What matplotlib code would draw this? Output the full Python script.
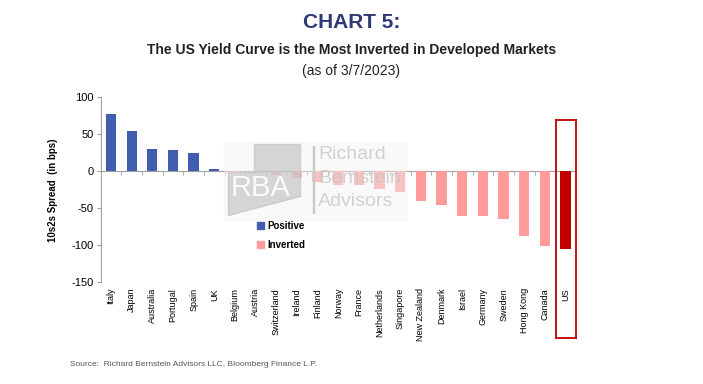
import numpy as np
import matplotlib
matplotlib.use("Agg")
import matplotlib.pyplot as plt
from matplotlib.patches import Rectangle, Polygon

# data (10s2s spread, bps)
countries = ["Italy", "Japan", "Australia", "Portugal", "Spain", "UK", "Belgium",
             "Austria", "Switzerland", "Ireland", "Finland", "Norway", "France",
             "Netherlands", "Singapore", "New Zealand", "Denmark", "Israel",
             "Germany", "Sweden", "Hong Kong", "Canada", "US"]
spread = [77, 54, 30, 29, 25, 3, -1.5, -2, -5.5, -9, -15, -18.5, -18, -24.5,
          -28.5, -40, -46, -61, -61, -64, -87, -100.5, -105]
yticks = [100, 50, 0, -50, -100, -150]

blue = "#3F5EAD"
pink = "#FF9B9B"
us_red = "#C00000"

plt.rcParams['font.family'] = ['Liberation Sans', 'DejaVu Sans']
plt.rcParams['axes.unicode_minus'] = False

fig = plt.figure(figsize=(7.03, 3.84), dpi=100)
ax = fig.add_axes([0.1432, 0.2648, 0.6761, 0.4818])

x = np.arange(len(countries))
colors = []
for c, v in zip(countries, spread):
    if c == "US":
        colors.append(us_red)
    elif v > 0:
        colors.append(blue)
    else:
        colors.append(pink)
ax.bar(x, spread, width=0.5, color=colors, zorder=3)

ax.set_xlim(-0.5, len(countries) - 0.5)
ax.set_ylim(-150, 100)
ax.set_yticks(yticks)
ax.tick_params(axis='y', labelsize=8, length=3, color="#A0A0A0", pad=2)

# zero line with small ticks between categories, labels at the bottom
for s in ["top", "right"]:
    ax.spines[s].set_visible(False)
ax.spines["left"].set_color("#A0A0A0")
ax.spines["bottom"].set_position(("data", 0))
ax.spines["bottom"].set_color("#A0A0A0")
ax.spines["bottom"].set_zorder(2)
ax.set_xticks(x)
ax.set_xticklabels(countries, rotation=90, fontsize=6.5)
ax.set_xticks(x[:-1] + 0.5, minor=True)
ax.tick_params(axis='x', which='major', length=0, pad=84)
ax.tick_params(axis='x', which='minor', length=3, color="#A0A0A0")
ax.set_ylabel("10s2s Spread  (in bps)", fontsize=7, fontweight='bold', labelpad=10)

# legend
h1 = Rectangle((0, 0), 1, 1, color=blue)
h2 = Rectangle((0, 0), 1, 1, color=pink)
leg = ax.legend([h1, h2], ["Positive", "Inverted"], loc="upper left",
                bbox_to_anchor=(0.31, 0.38), frameon=False, handlelength=0.7,
                handleheight=0.7, handletextpad=0.4, labelspacing=0.9,
                prop={'size': 7, 'weight': 'bold'})

# highlight box around US
us_ax = fig.add_axes([555.7 / 703, 1 - 338 / 384, 20.6 / 703, (338 - 120) / 384])
us_ax.set_xticks([])
us_ax.set_yticks([])
us_ax.patch.set_alpha(0)
for s in us_ax.spines.values():
    s.set_color(us_red)
    s.set_linewidth(1.3)

# watermark
fig.patches.append(Rectangle((224 / 703, 1 - 220 / 384), 182 / 703, 78 / 384,
                             transform=fig.transFigure, color="#F2F2F2", alpha=0.45, zorder=1))
fig.patches.append(Polygon([(228 / 703, 1 - 215 / 384), (228 / 703, 1 - 172 / 384),
                            (254 / 703, 1 - 172 / 384), (254 / 703, 1 - 144 / 384),
                            (300 / 703, 1 - 144 / 384), (300 / 703, 1 - 196 / 384)],
                           closed=True, transform=fig.transFigure, color="#BDBDBD",
                           alpha=0.6, zorder=5))
fig.text(231 / 703, 1 - 188 / 384, "RBA", fontsize=21, color="white", alpha=0.9,
         va='center', zorder=6)
fig.patches.append(Rectangle((313 / 703, 1 - 213 / 384), 1 / 703, 67 / 384,
                             transform=fig.transFigure, color="#C8C8C8", zorder=5))
for i, w in enumerate(["Richard", "Bernstein", "Advisors"]):
    fig.text(318 / 703, 1 - (155 + 23 * i) / 384, w, fontsize=14, color="#C4C4C4",
             alpha=0.75, va='center', zorder=6)

# titles
fig.text(0.5, 1 - 22 / 384, "CHART 5:", ha='center', va='center', fontsize=15,
         fontweight='bold', color="#2E3A78")
fig.text(0.5, 1 - 50 / 384, "The US Yield Curve is the Most Inverted in Developed Markets",
         ha='center', va='center', fontsize=10, fontweight='bold', color="#222222")
fig.text(0.5, 1 - 71 / 384, "(as of 3/7/2023)", ha='center', va='center', fontsize=10,
         color="#222222")
fig.text(70 / 703, 1 - 365 / 384, "Source:  Richard Bernstein Advisors LLC, Bloomberg Finance L.P.",
         ha='left', va='center', fontsize=6, color="#555555")

fig.savefig("out.png", dpi=100)
